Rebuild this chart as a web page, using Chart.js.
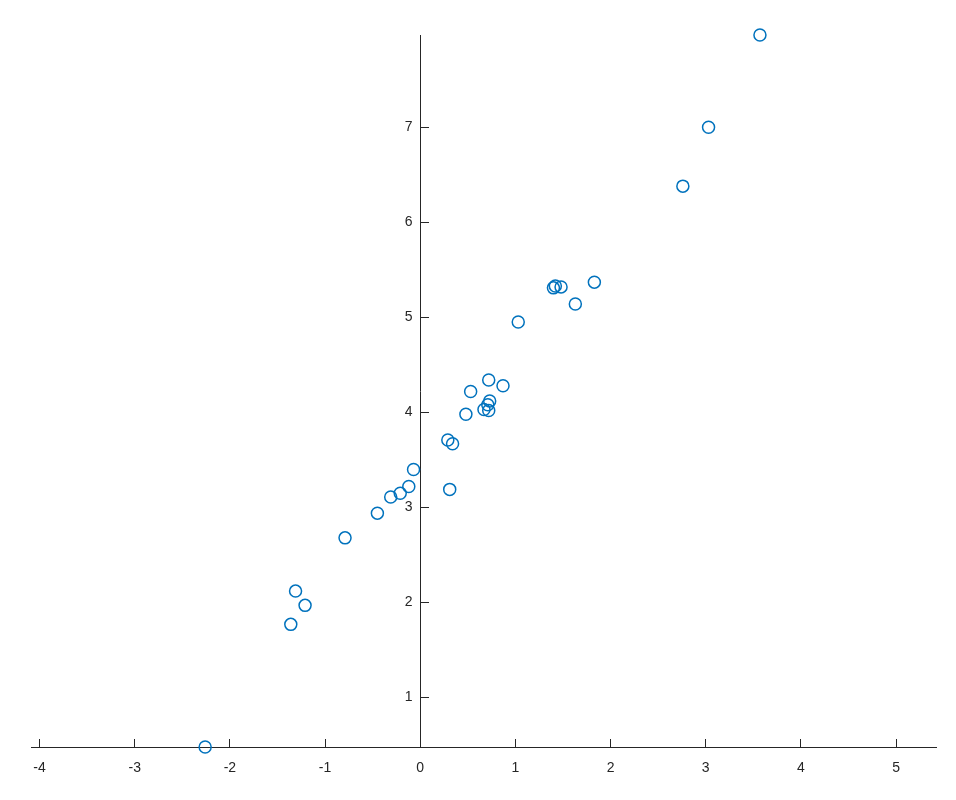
<!DOCTYPE html>
<html>
<head>
<meta charset="utf-8">
<script src="https://cdn.jsdelivr.net/npm/chart.js@4.4.1/dist/chart.umd.min.js"></script>
<style>
  body { margin: 0; background: #fff; }
</style>
</head>
<body>
<canvas id="myChart" width="956" height="800"></canvas>
<script>
// values
const xs = [3.57, 3.03, 2.76, 1.83, 1.63, 1.48, 1.42, 1.40, 1.03,
            0.72, 0.87, 0.53, 0.73, 0.48, 0.67, 0.72, 0.71, 0.29, 0.34, 0.31,
            -0.07, -0.12, -0.21, -0.31, -0.45, -0.79, -1.31, -1.21, -1.36, -2.26];
const ys = [7.97, 7.00, 6.38, 5.37, 5.14, 5.32, 5.33, 5.31, 4.95,
            4.34, 4.28, 4.22, 4.12, 3.98, 4.03, 4.02, 4.08, 3.71, 3.67, 3.19,
            3.40, 3.22, 3.15, 3.11, 2.94, 2.68, 2.12, 1.97, 1.77, 0.48];
const xLimits = [-4.09, 5.42];
const yLimits = [0.48, 7.97];
const xTicks = [-4, -3, -2, -1, 0, 1, 2, 3, 4, 5];
const yTicks = [1, 2, 3, 4, 5, 6, 7];

const points = xs.map((x, i) => ({x: x, y: ys[i]}));
const axisColor = '#262626';
const tickFont = { family: 'Liberation Sans', size: 14 };

const config = {
  type: 'scatter',
  data: {
    datasets: [{
      data: points,
      pointStyle: 'circle',
      pointRadius: 6,
      pointHoverRadius: 6,
      borderWidth: 1.5,
      borderColor: '#0072BD',
      backgroundColor: 'rgba(0,0,0,0)',
      clip: false
    }]
  },
  options: {
    responsive: false,
    animation: false,
    layout: { padding: { left: 31, right: 20, top: 35, bottom: 53 } },
    plugins: { legend: { display: false }, tooltip: { enabled: false } },
    scales: {
      x: {
        type: 'linear',
        position: { y: yLimits[0] },
        min: xLimits[0],
        max: xLimits[1],
        afterBuildTicks: s => { s.ticks = xTicks.map(v => ({value: v})); },
        grid: { drawOnChartArea: false, tickLength: -9, color: axisColor, tickWidth: 1 },
        border: { color: axisColor, width: 1 },
        ticks: { padding: 22, color: axisColor, font: tickFont }
      },
      y: {
        type: 'linear',
        position: { x: 0 },
        min: yLimits[0],
        max: yLimits[1],
        afterBuildTicks: s => { s.ticks = yTicks.map(v => ({value: v})); },
        grid: { drawOnChartArea: false, tickLength: -9, color: axisColor, tickWidth: 1 },
        border: { color: axisColor, width: 1 },
        ticks: {
          padding: 17, color: axisColor, font: tickFont,
          // the label sits flush on the axis for this position, so pad it with spaces
          callback: v => v + '  '
        }
      }
    }
  }
};

new Chart(document.getElementById('myChart'), config);
</script>
</body>
</html>
